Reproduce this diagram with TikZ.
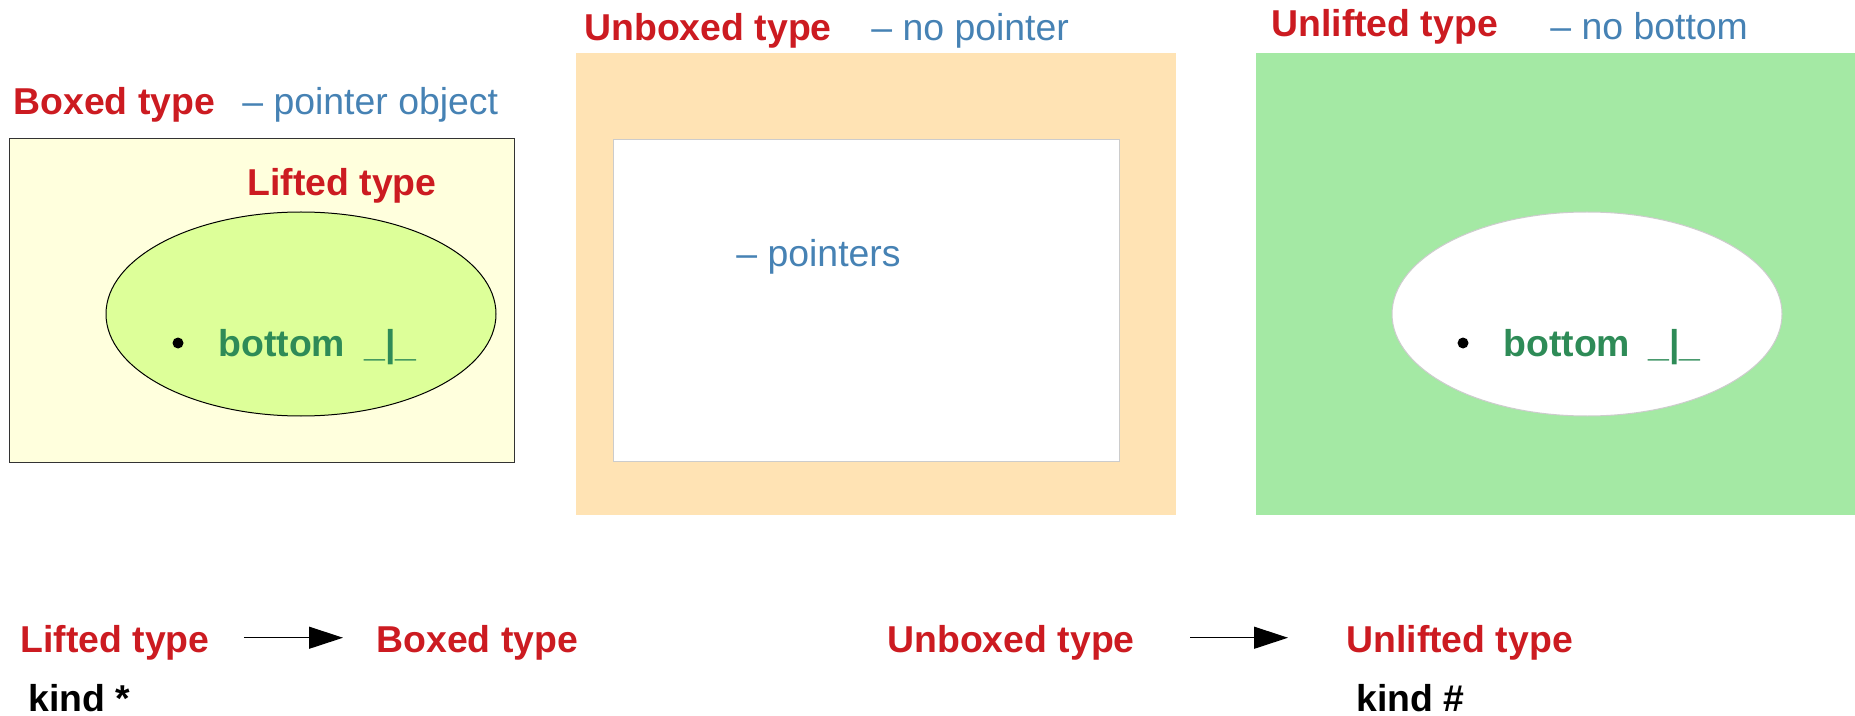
\documentclass[tikz,border=0pt]{standalone}
\usepackage{fontspec}
\setmainfont{Liberation Sans}
\usetikzlibrary{arrows.meta}
\definecolor{typered}{RGB}{204,27,33}
\definecolor{noteblue}{RGB}{70,130,180}
\definecolor{botgreen}{RGB}{46,139,87}
\definecolor{boxedyellow}{RGB}{255,255,221}
\definecolor{liftedlime}{RGB}{221,255,153}
\definecolor{unboxedorange}{RGB}{255,227,180}
\definecolor{unliftedgreen}{RGB}{164,233,164}
\begin{document}
\begin{tikzpicture}[x=0.5pt, y=-0.5pt,
    lbl/.style={inner sep=0pt, anchor=base west, font=\fontsize{18.7}{22}\selectfont},
    typelbl/.style={lbl, text=typered, font=\fontsize{18.7}{22}\selectfont\bfseries},
    notelbl/.style={lbl, text=noteblue},
    botlbl/.style={lbl, text=botgreen, font=\fontsize{18.7}{22}\selectfont\bfseries},
    kindlbl/.style={lbl, text depth=0pt, font=\fontsize{18.7}{22}\selectfont\bfseries},
    dot/.style={circle, fill=black, inner sep=0pt, minimum size=5.5pt},
    kindarrow/.style={-{Triangle[length=17pt,width=11pt]}, line width=0.6pt}]
        \useasboundingbox (0,0) rectangle (1855,716);

        % boxed / lifted
        \draw[fill=boxedyellow, draw=black!80, line width=0.5pt] (9,139) rectangle (514,462);
        \draw[fill=liftedlime, line width=0.5pt] (301,314) ellipse [x radius=97.5pt, y radius=51pt];
        \node[typelbl] (boxd1) at (13,115) {Boxed type};
        \node[notelbl] (boxdnote) at (242,115) {-- pointer object};
        \node[typelbl] (lift1) at (247,196) {Lifted type};
        \node[dot] (dot1) at (178,343) {};
        \node[botlbl] (bot1) at (218,357) {bottom};
        \node[botlbl] (bar1) at (364,357) {\_|\_};

        % unboxed
        \fill[unboxedorange] (576,53) rectangle (1176,515);
        \draw[fill=white, draw=black!20, line width=0.5pt] (613,140) rectangle (1119,461);
        \node[typelbl] (unbx1) at (584,41) {Unboxed type};
        \node[notelbl] (unbxnote) at (871,41) {-- no pointer};
        \node[notelbl] (ptrnote) at (736,267) {-- pointers};

        % unlifted
        \fill[unliftedgreen] (1256,53) rectangle (1855,515);
        \draw[fill=white, draw=black!20, line width=0.5pt] (1587,314) ellipse [x radius=97.5pt, y radius=51pt];
        \node[typelbl] (unlf1) at (1271,37) {Unlifted type};
        \node[notelbl] (unlfnote) at (1550,40) {-- no bottom};
        \node[dot] (dot2) at (1463,343) {};
        \node[botlbl] (bot2) at (1503,357) {bottom};
        \node[botlbl] (bar2) at (1648,357) {\_|\_};

        % kinds
        \node[typelbl] (lift2) at (20,652) {Lifted type};
        \node[typelbl] (boxd2) at (376,652) {Boxed type};
        \node[typelbl] (unbx2) at (887,652) {Unboxed type};
        \node[typelbl] (unlf2) at (1346,652) {Unlifted type};
        \node[kindlbl] (kind1) at (28,711) {kind *};
        \node[kindlbl] (kind2) at (1356,711) {kind \#};
        \draw[kindarrow, shorten <=17pt, shorten >=16.5pt] ([yshift=2.3pt]lift2.east) -- ([yshift=2.3pt]boxd2.west);
        \draw[kindarrow, shorten <=27.5pt, shorten >=29pt] ([yshift=2.3pt]unbx2.east) -- ([yshift=2.3pt]unlf2.west);
      \end{tikzpicture}
\end{document}
